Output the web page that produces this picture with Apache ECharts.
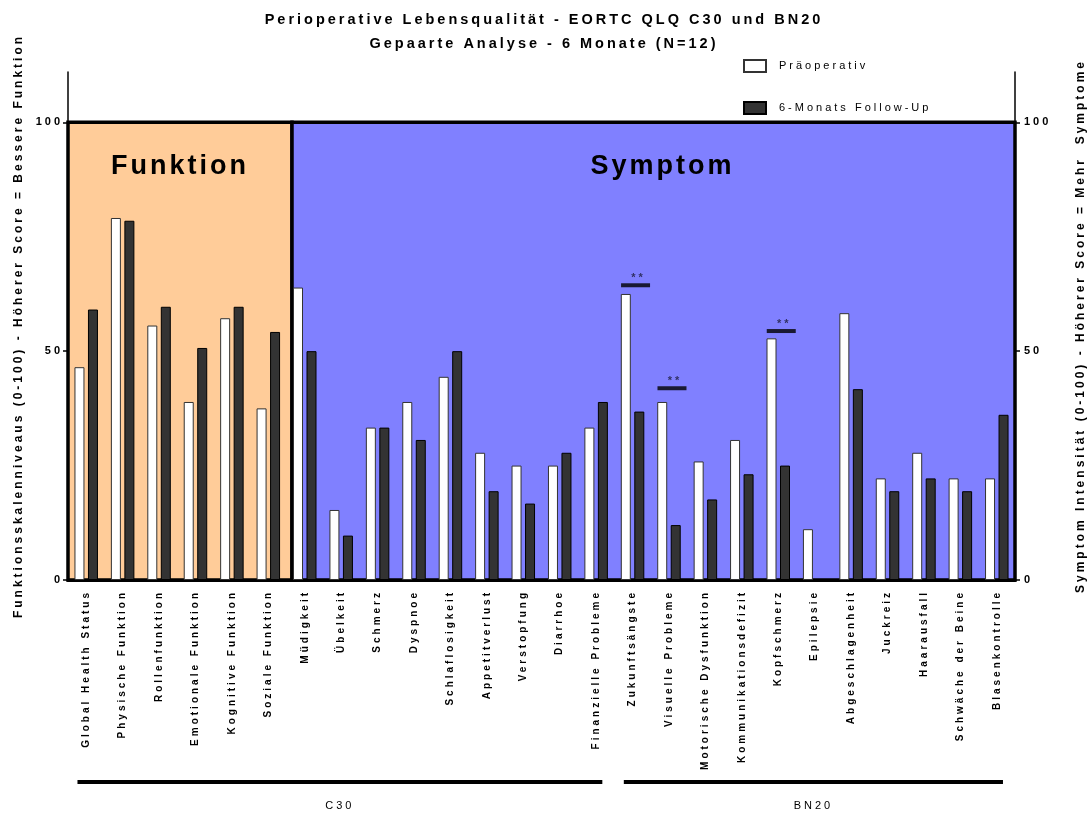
<!DOCTYPE html>
<html>
<head>
<meta charset="utf-8">
<script src="https://cdn.jsdelivr.net/npm/echarts@6/dist/echarts.min.js"></script>
<style>
  html, body { margin: 0; padding: 0; background: #fff; }
  #chart { width: 1088px; height: 814px; }
</style>
</head>
<body>
<div id="chart"></div>
<script>
const categories = [
  'Global Health Status', 'Physische Funktion', 'Rollenfunktion', 'Emotionale Funktion',
  'Kognitive Funktion', 'Soziale Funktion', 'Müdigkeit', 'Übelkeit', 'Schmerz', 'Dyspnoe',
  'Schlaflosigkeit', 'Appetitverlust', 'Verstopfung', 'Diarrhoe', 'Finanzielle Probleme',
  'Zukunftsängste', 'Visuelle Probleme', 'Motorische Dysfunktion', 'Kommunikationsdefizit',
  'Kopfschmerz', 'Epilepsie', 'Abgeschlagenheit', 'Juckreiz', 'Haarausfall',
  'Schwäche der Beine', 'Blasenkontrolle'
];
const preOp = [46.5, 79.1, 55.6, 38.9, 57.2, 37.5, 63.9, 15.3, 33.3, 38.9, 44.4, 27.8, 25.0,
  25.0, 33.3, 62.5, 38.9, 25.9, 30.6, 52.8, 11.1, 58.3, 22.2, 27.8, 22.2, 22.2];
const followUp = [59.1, 78.5, 59.7, 50.7, 59.7, 54.2, 50.0, 9.7, 33.3, 30.6, 50.0, 19.4, 16.7,
  27.8, 38.9, 36.8, 12.0, 17.6, 23.1, 25.0, 0, 41.7, 19.4, 22.2, 19.4, 36.1];
const yTicks = [0, 50, 100];

// significance bars (**)
const sigCats = ['Zukunftsängste', 'Visuelle Probleme', 'Kopfschmerz'];
const sigY = [64.4, 41.9, 54.4];

// groups under the x axis: [first index, last index, label]
const groups = [[0, 14, 'C30'], [15, 25, 'BN20']];
// Funktion / Symptom split (in category units)
const splitAt = 6.15;

const font = 'Liberation Sans';
const chart = echarts.init(document.getElementById('chart'));

const option = {
  animation: false,
  title: {
    text: 'Perioperative Lebensqualität - EORTC QLQ C30 und BN20\nGepaarte Analyse - 6 Monate (N=12)',
    left: 'center',
    top: 3,
    textStyle: { fontFamily: font, fontWeight: 'bold', fontSize: 14.5, lineHeight: 24, color: '#000' }
  },
  legend: {
    orient: 'vertical',
    left: 738,
    top: 54,
    itemGap: 28,
    itemWidth: 22,
    itemHeight: 12,
    icon: 'rect',
    textStyle: { fontFamily: font, fontSize: 11, color: '#000', padding: [0, 0, 0, 8] },
    data: ['Präoperativ', '6-Monats Follow-Up']
  },
  grid: { left: 68, right: 73, top: 72, bottom: 234, outerBoundsMode: 'none' },
  xAxis: [
    {
      type: 'category',
      data: categories,
      axisLine: { lineStyle: { color: '#000', width: 3 } },
      axisTick: { alignWithLabel: true, length: 5, lineStyle: { color: '#000', width: 1.5 } },
      axisLabel: {
        interval: 0, rotate: 90, margin: 10, color: '#000',
        fontFamily: font, fontWeight: 'bold', fontSize: 10
      }
    },
    { type: 'value', min: 0, max: 26, show: false }
  ],
  yAxis: [
    {
      type: 'value', min: 0, max: 111, position: 'left',
      name: 'Funktionsskalenniveaus (0-100) - Höherer Score = Bessere Funktion',
      nameLocation: 'middle', nameRotate: 90, nameGap: 43,
      nameTextStyle: { fontFamily: font, fontWeight: 'bold', fontSize: 12, color: '#000' },
      axisLine: { show: true, lineStyle: { color: '#000', width: 1.5 } },
      axisTick: { show: true, length: 5, customValues: yTicks, lineStyle: { color: '#000', width: 1.5 } },
      axisLabel: { customValues: yTicks, margin: 5, color: '#000', fontFamily: font, fontWeight: 'bold', fontSize: 11 },
      splitLine: { show: false }
    },
    {
      type: 'value', min: 0, max: 111, position: 'right',
      name: 'Symptom Intensität (0-100) - Höherer Score = Mehr  Symptome',
      nameLocation: 'middle', nameRotate: 90, nameGap: 60,
      nameTextStyle: { fontFamily: font, fontWeight: 'bold', fontSize: 12, color: '#000' },
      axisLine: { show: true, lineStyle: { color: '#000', width: 1.5 } },
      axisTick: { show: true, length: 5, customValues: yTicks, lineStyle: { color: '#000', width: 1.5 } },
      axisLabel: { customValues: yTicks, margin: 9, color: '#000', fontFamily: font, fontWeight: 'bold', fontSize: 11 },
      splitLine: { show: false }
    }
  ],
  series: [
    {
      // background boxes
      type: 'line',
      xAxisIndex: 1,
      yAxisIndex: 0,
      data: [],
      silent: true,
      z: 0,
      markArea: {
        silent: true,
        data: [
          [
            { xAxis: 0, yAxis: 0, itemStyle: { color: '#FFCC99' },
              label: { show: true, formatter: 'Funktion' } },
            { xAxis: splitAt, yAxis: 100 }
          ],
          [
            { xAxis: splitAt, yAxis: 0, itemStyle: { color: '#8080FF' },
              label: { show: true, formatter: 'Symptom', offset: [9, 0] } },
            { xAxis: 26, yAxis: 100 }
          ]
        ],
        itemStyle: { borderColor: '#000', borderWidth: 3.5 },
        label: {
          position: 'insideTop', distance: 32, color: '#000',
          fontFamily: font, fontWeight: 'bold', fontSize: 27
        }
      }
    },
    {
      name: 'Präoperativ',
      type: 'bar',
      data: preOp,
      barWidth: 10,
      barGap: '35%',
      z: 3,
      itemStyle: { color: '#fff', borderColor: '#333', borderWidth: 1 }
    },
    {
      name: '6-Monats Follow-Up',
      type: 'bar',
      data: followUp,
      barWidth: 10,
      z: 3,
      itemStyle: { color: '#333333', borderColor: '#000', borderWidth: 1 }
    },
    {
      type: 'scatter',
      data: sigCats.map((c, i) => [c, sigY[i]]),
      symbol: 'rect',
      symbolSize: [29, 4],
      symbolOffset: [3, 0],
      z: 4,
      itemStyle: { color: '#000' },
      label: {
        show: true, position: 'top', distance: 0, offset: [3, 0], formatter: '**',
        color: '#1a1a3a', fontFamily: font, fontWeight: 'bold', fontSize: 11
      }
    },
    {
      type: 'custom',
      data: groups,
      clip: false,
      silent: true,
      encode: { x: [0, 1] },
      renderItem: function (params, api) {
        const band = api.size([1, 0])[0];
        const y0 = api.coord([0, 0])[1];
        const x1 = api.coord([api.value(0), 0])[0] - band * 0.24;
        const x2 = api.coord([api.value(1), 0])[0] + band * 0.17;
        return {
          type: 'group',
          children: [
            { type: 'rect', shape: { x: x1, y: y0 + 200, width: x2 - x1, height: 4 }, style: { fill: '#000' } },
            { type: 'text', x: (x1 + x2) / 2, y: y0 + 226,
              style: { text: groups[params.dataIndex][2], align: 'center', verticalAlign: 'middle',
                fill: '#000', font: '11px ' + font } }
          ]
        };
      }
    }
  ]
};

chart.setOption(option);

// the original uses spaced-out lettering; canvas exists after the first render
const cv = document.querySelector('#chart canvas');
if (cv) {
  cv.getContext('2d').letterSpacing = '3px';
  chart.setOption(option, true);
}
</script>
</body>
</html>
